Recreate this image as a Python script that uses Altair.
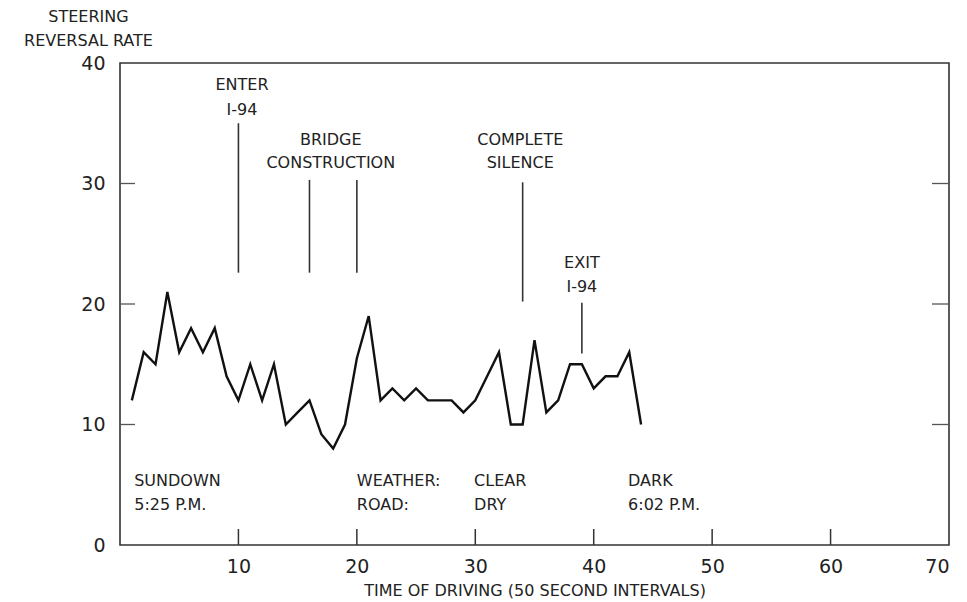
import altair as alt
import pandas as pd

# ---- data ----
interval = list(range(1, 45))
rate = [12, 16, 15, 21, 16, 18, 16, 18, 14, 12,
        15, 12, 15, 10, 11, 12, 9.2, 8, 10, 15.5,
        19, 12, 13, 12, 13, 12, 12, 12, 11, 12,
        14, 16, 10, 10, 17, 11, 12, 15, 15, 13,
        14, 14, 16, 10]

marker_x = [10, 16, 20, 34, 39]
marker_top = [35.0, 30.3, 30.3, 30.1, 20.1]
marker_bottom = [22.6, 22.6, 22.6, 20.2, 15.9]

note_text = ["ENTER", "I-94", "BRIDGE", "CONSTRUCTION", "COMPLETE", "SILENCE", "EXIT", "I-94"]
note_x = [10.3, 10.3, 17.8, 17.8, 33.8, 33.8, 39.0, 39.0]
note_y = [38.2, 36.1, 33.6, 31.7, 33.6, 31.7, 23.4, 21.4]

info_text = ["SUNDOWN", "5:25 P.M.", "WEATHER:", "ROAD:", "CLEAR", "DRY", "DARK", "6:02 P.M."]
info_x = [1.2, 1.2, 20.0, 20.0, 29.9, 29.9, 42.9, 42.9]
info_y = [5.3, 3.3, 5.3, 3.3, 5.3, 3.3, 5.3, 3.3]

x_tick_vals = [10, 20, 30, 40, 50, 60]
y_tick_vals = [10, 20, 30]
x_label_vals = [10, 20, 30, 40, 50, 60, 70]
y_label_vals = [0, 10, 20, 30, 40]

W, H = 829, 482
FONT = "DejaVu Sans"
INK = "#222222"

df = pd.DataFrame({"t": interval, "r": rate})
df_mark = pd.DataFrame({"x": marker_x, "top": marker_top, "bot": marker_bottom})
df_note = pd.DataFrame({"x": note_x, "y": note_y, "text": note_text})
df_info = pd.DataFrame({"x": info_x, "y": info_y, "text": info_text})
df_xt = pd.DataFrame({"v": x_tick_vals})
df_yt = pd.DataFrame({"v": y_tick_vals})

xscale = alt.Scale(domain=[0, 70], nice=False, zero=False)
yscale = alt.Scale(domain=[0, 40], nice=False)

XTITLE = "TIME OF DRIVING (50 SECOND INTERVALS)"
YTITLE = ["STEERING", "REVERSAL RATE"]

xaxis = alt.Axis(values=x_label_vals, ticks=False, domain=False, grid=False,
                 tickSize=0, labelPadding=12, labelFontSize=19, labelFont=FONT,
                 labelColor=INK, title=XTITLE,
                 titleFont=FONT, titleFontSize=16, titleFontWeight="normal",
                 titleColor=INK, titleBaseline="top", titleY=37)
yaxis = alt.Axis(values=y_label_vals, ticks=False, domain=False, grid=False,
                 tickSize=0, labelPadding=15, labelFontSize=19, labelFont=FONT,
                 labelColor=INK, title=YTITLE,
                 titleFont=FONT, titleFontSize=16, titleFontWeight="normal",
                 titleColor=INK, titleAngle=0, titleAlign="center",
                 titleBaseline="top", titleX=-32, titleY=-55, titleLineHeight=24)

line = alt.Chart(df).mark_line(color="#111111", strokeWidth=2.4).encode(
    x=alt.X("t:Q", scale=xscale, axis=xaxis, title=XTITLE),
    y=alt.Y("r:Q", scale=yscale, axis=yaxis, title=YTITLE),
)

markers = alt.Chart(df_mark).mark_rule(color="#333333", strokeWidth=1.6).encode(
    x=alt.X("x:Q", scale=xscale, axis=xaxis, title=XTITLE),
    y=alt.Y("top:Q", scale=yscale, axis=yaxis, title=YTITLE),
    y2="bot:Q",
)

notes = alt.Chart(df_note).mark_text(font=FONT, fontSize=16, color=INK, align="center",
                                     baseline="middle").encode(
    x=alt.X("x:Q", scale=xscale, axis=xaxis, title=XTITLE),
    y=alt.Y("y:Q", scale=yscale, axis=yaxis, title=YTITLE),
    text="text:N",
)

infos = alt.Chart(df_info).mark_text(font=FONT, fontSize=16, color=INK, align="left",
                                     baseline="middle").encode(
    x=alt.X("x:Q", scale=xscale, axis=xaxis, title=XTITLE),
    y=alt.Y("y:Q", scale=yscale, axis=yaxis, title=YTITLE),
    text="text:N",
)

xticks = alt.Chart(df_xt).mark_rule(color="#333333", strokeWidth=1.5).encode(
    x=alt.X("v:Q", scale=xscale, axis=xaxis, title=XTITLE),
    y=alt.value(H),
    y2=alt.value(H - 16),
)

yticks_left = alt.Chart(df_yt).mark_rule(color="#555555", strokeWidth=1.3).encode(
    y=alt.Y("v:Q", scale=yscale, axis=yaxis, title=YTITLE),
    x=alt.value(0),
    x2=alt.value(15),
)

yticks_right = alt.Chart(df_yt).mark_rule(color="#555555", strokeWidth=1.3).encode(
    y=alt.Y("v:Q", scale=yscale, axis=yaxis, title=YTITLE),
    x=alt.value(W - 17),
    x2=alt.value(W),
)

chart = alt.layer(line, markers, notes, infos, xticks, yticks_left, yticks_right).properties(
    width=W, height=H,
    autosize=alt.AutoSizeParams(type="none"),
    padding={"left": 112, "top": 55, "right": 10, "bottom": 56},
    background="white",
).configure_view(stroke="#333333", strokeWidth=1.6)

chart.save("out.html", embed_options={"renderer": "svg", "actions": False})
